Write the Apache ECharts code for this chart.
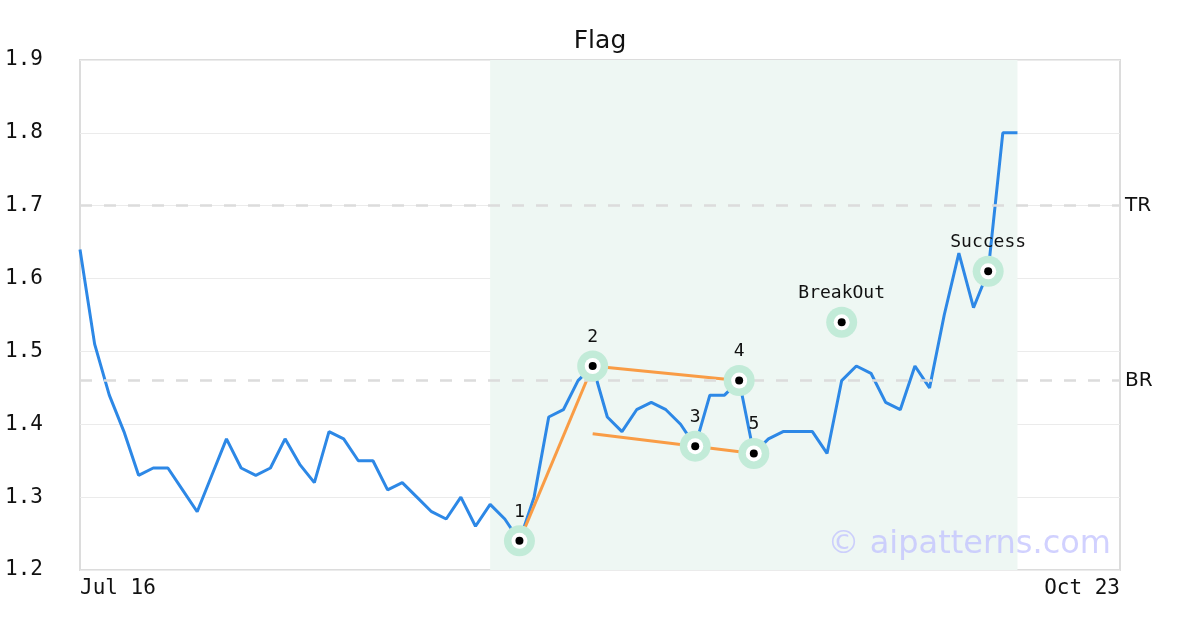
<!DOCTYPE html>
<html>
<head>
<meta charset="utf-8">
<script src="https://cdn.jsdelivr.net/npm/echarts@6/dist/echarts.min.js"></script>
<style>html,body{margin:0;padding:0;background:#fff;}#c{width:1200px;height:630px;}</style>
</head>
<body>
<div id="c"></div>
<script>
const categories = [
  'Jul 16','Jul 17','Jul 18','Jul 19','Jul 20',
  'Jul 23','Jul 24','Jul 25','Jul 26','Jul 27',
  'Jul 30','Jul 31','Aug 1','Aug 2','Aug 3',
  'Aug 6','Aug 7','Aug 8','Aug 9','Aug 10',
  'Aug 13','Aug 14','Aug 15','Aug 16','Aug 17',
  'Aug 20','Aug 21','Aug 22','Aug 23','Aug 24',
  'Aug 27','Aug 28','Aug 29','Aug 30','Aug 31',
  'Sep 3','Sep 4','Sep 5','Sep 6','Sep 7',
  'Sep 10','Sep 11','Sep 12','Sep 13','Sep 14',
  'Sep 17','Sep 18','Sep 19','Sep 20','Sep 21',
  'Sep 24','Sep 25','Sep 26','Sep 27','Sep 28',
  'Oct 1','Oct 2','Oct 3','Oct 4','Oct 5',
  'Oct 8','Oct 9','Oct 10','Oct 11','Oct 12',
  'Oct 15','Oct 16','Oct 17','Oct 18','Oct 19',
  'Oct 22','Oct 23'
];
const price = [
  1.64,1.51,1.44,1.39,1.33,1.34,1.34,1.31,1.28,1.33,
  1.38,1.34,1.33,1.34,1.38,1.345,1.32,1.39,1.38,1.35,
  1.35,1.31,1.32,1.30,1.28,1.27,1.30,1.26,1.29,1.27,
  1.24,1.30,1.41,1.42,1.46,1.48,1.41,1.39,1.42,1.43,
  1.42,1.40,1.37,1.44,1.44,1.46,1.36,1.38,1.39,1.39,
  1.39,1.36,1.46,1.48,1.47,1.43,1.42,1.48,1.45,1.55,
  1.635,1.56,1.61,1.80,1.80
];
const pointIdx = [30,35,42,45,46,52,62];
const pointVal = [1.24,1.48,1.37,1.46,1.36,1.54,1.61];
const pointLabels = ['1','2','3','4','5','BreakOut','Success'];
const poleLine = [[30,1.24],[35,1.48]];
const upperLine = [[35,1.48],[46,1.458]];
const lowerLine = [[35,1.387],[46,1.36]];
const levels = [{name:'TR', value:1.70},{name:'BR', value:1.46}];
const shadeRange = [28,64];
const yTicks = [1.2,1.3,1.4,1.5,1.6,1.7,1.8,1.9];

const mono = 'DejaVu Sans Mono';
const sans = 'DejaVu Sans';
const pts = pointIdx.map((x,i)=>[x,pointVal[i]]);

const chart = echarts.init(document.getElementById('c'), null, {renderer:'canvas'});
chart.setOption({
  backgroundColor:'#fff',
  animation:false,
  title:{text:'Flag', left:'center', top:24, textStyle:{fontFamily:sans, fontSize:25, fontWeight:'normal', color:'#111'}},
  grid:{left:80, right:80, top:60, bottom:60, show:true, borderColor:'#dcdcdc', borderWidth:2, backgroundColor:'transparent'},
  xAxis:{
    type:'category', data:categories, boundaryGap:false,
    axisLine:{show:false}, axisTick:{show:false}, splitLine:{show:false},
    axisLabel:{
      interval:0,
      formatter:(v,i)=> (i===0||i===categories.length-1)? v : '',
      fontFamily:mono, fontSize:21, color:'#111', margin:8,
      alignMinLabel:'left', alignMaxLabel:'right'
    }
  },
  yAxis:{
    type:'value', min:yTicks[0], max:yTicks[yTicks.length-1], interval:0.1,
    axisLine:{show:false}, axisTick:{show:false},
    splitLine:{lineStyle:{color:'#ebebeb', width:1}},
    axisLabel:{align:'left', margin:75, fontFamily:mono, fontSize:21, color:'#111', padding:[4,0,0,0], formatter:v=>v.toFixed(1)}
  },
  series:[
    {
      type:'line', data:price, symbol:'none', z:3,
      lineStyle:{color:'#2d88e6', width:3},
      markArea:{silent:true, itemStyle:{color:'#eef7f3'}, data:[[{xAxis:shadeRange[0]},{xAxis:shadeRange[1]}]]},
      markLine:{
        silent:true, symbol:'none',
        lineStyle:{color:'#dcdcdc', type:[12,12], width:2.5},
        label:{position:'end', distance:5, fontFamily:sans, fontSize:20, color:'#111', formatter:p=>p.name},
        data:levels.map(l=>({name:l.name, yAxis:l.value}))
      }
    },
    {type:'line', data:poleLine, symbol:'none', z:4, lineStyle:{color:'#f99c45', width:3}},
    {type:'line', data:upperLine, symbol:'none', z:4, lineStyle:{color:'#f99c45', width:3}},
    {type:'line', data:lowerLine, symbol:'none', z:4, lineStyle:{color:'#f99c45', width:3}},
    {type:'scatter', data:pts, symbol:'circle', symbolSize:31, z:5, itemStyle:{color:'#c2ebd8', opacity:1}},
    {type:'scatter', data:pts, symbol:'circle', symbolSize:16, z:6, itemStyle:{color:'#ffffff', opacity:1}},
    {type:'scatter', data:pts, symbol:'circle', symbolSize:8, z:7, itemStyle:{color:'#000', opacity:1},
      label:{show:true, position:'top', distance:16, fontFamily:mono, fontSize:18, color:'#111',
        formatter:p=>pointLabels[p.dataIndex]}}
  ],
  graphic:[{
    type:'text', right:89, top:529, z:100, silent:true,
    style:{text:'© aipatterns.com', font:'32px "DejaVu Sans"', fill:'rgba(190,190,255,0.7)'}
  }]
});
</script>
</body>
</html>
